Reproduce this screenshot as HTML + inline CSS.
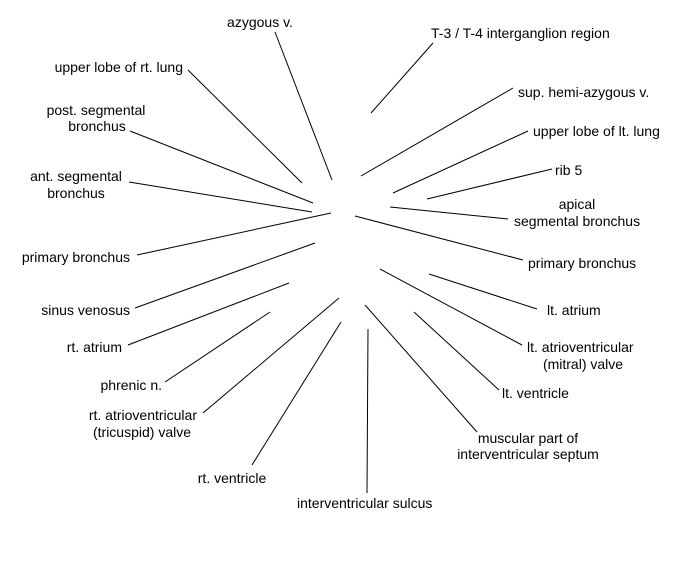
<!DOCTYPE html>
<html><head><meta charset="utf-8"><style>
html,body{margin:0;padding:0;background:#fff;}
svg{display:block;}
text{font-family:"Liberation Sans",Arial,sans-serif;font-size:14px;fill:#000;}
line{stroke:#000;stroke-width:1;}
</style></head><body>
<svg width="675" height="580" viewBox="0 0 675 580" xmlns="http://www.w3.org/2000/svg">
<line x1="275" y1="32" x2="332" y2="180"/>
<line x1="433" y1="43" x2="371" y2="113"/>
<line x1="188" y1="70" x2="302" y2="183"/>
<line x1="513" y1="88" x2="361" y2="176"/>
<line x1="130" y1="131" x2="313" y2="203"/>
<line x1="528" y1="131" x2="393" y2="193"/>
<line x1="552" y1="169" x2="427" y2="199"/>
<line x1="129" y1="182" x2="312" y2="212"/>
<line x1="508" y1="219" x2="390" y2="207"/>
<line x1="137" y1="255" x2="331" y2="213"/>
<line x1="523" y1="260" x2="355" y2="216"/>
<line x1="135" y1="308" x2="315" y2="243"/>
<line x1="537" y1="309" x2="429" y2="274"/>
<line x1="128" y1="345" x2="289" y2="283"/>
<line x1="522" y1="345" x2="380" y2="269"/>
<line x1="165" y1="382" x2="270" y2="312"/>
<line x1="499" y1="390" x2="414" y2="312"/>
<line x1="203" y1="413" x2="339" y2="298"/>
<line x1="477" y1="432" x2="365" y2="305"/>
<line x1="252" y1="465" x2="341" y2="322"/>
<line x1="367" y1="493" x2="368" y2="329"/>

<text x="260" y="27" text-anchor="middle">azygous v.</text>
<text x="431" y="38">T-3 / T-4 interganglion region</text>
<text x="183" y="72" text-anchor="end">upper lobe of rt. lung</text>
<text x="518" y="97">sup. hemi-azygous v.</text>
<text x="96" y="115" text-anchor="middle">post. segmental</text>
<text x="97" y="131" text-anchor="middle">bronchus</text>
<text x="533" y="136">upper lobe of lt. lung</text>
<text x="555" y="175">rib 5</text>
<text x="76" y="181" text-anchor="middle">ant. segmental</text>
<text x="76" y="198" text-anchor="middle">bronchus</text>
<text x="577" y="209" text-anchor="middle">apical</text>
<text x="514" y="226">segmental bronchus</text>
<text x="130" y="262" text-anchor="end">primary bronchus</text>
<text x="528" y="268">primary bronchus</text>
<text x="130" y="315" text-anchor="end">sinus venosus</text>
<text x="547" y="315">lt. atrium</text>
<text x="122" y="352" text-anchor="end">rt. atrium</text>
<text x="527" y="352">lt. atrioventricular</text>
<text x="583" y="369" text-anchor="middle">(mitral) valve</text>
<text x="162" y="390" text-anchor="end">phrenic n.</text>
<text x="502" y="398">lt. ventricle</text>
<text x="197" y="420" text-anchor="end">rt. atrioventricular</text>
<text x="142" y="437" text-anchor="middle">(tricuspid) valve</text>
<text x="528" y="443" text-anchor="middle">muscular part of</text>
<text x="528" y="459" text-anchor="middle">interventricular septum</text>
<text x="232" y="483" text-anchor="middle">rt. ventricle</text>
<text x="297" y="508">interventricular sulcus</text>
</svg>
</body></html>
